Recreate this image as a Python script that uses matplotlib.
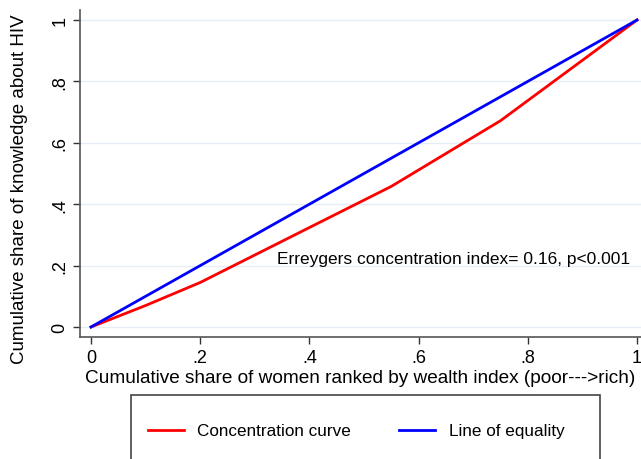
import numpy as np
import matplotlib.pyplot as plt
from matplotlib.patches import Rectangle

plt.rcParams["font.family"] = ["Liberation Sans", "DejaVu Sans"]

# Concentration curve
share_women = [0.0, 0.1, 0.2, 0.4, 0.55, 0.75, 1.0]
share_knowledge = [0.0, 0.07, 0.145, 0.324, 0.458, 0.672, 1.0]
equality = [0.0, 1.0]
ticks = [0, 0.2, 0.4, 0.6, 0.8, 1]
tick_labels = ["0", ".2", ".4", ".6", ".8", "1"]

fig = plt.figure(figsize=(6.41, 4.60), dpi=100)
ax = fig.add_axes([80 / 641, 122 / 460, 561 / 641, 327 / 460])

ax.plot(share_women, share_knowledge, color="#ff0000", lw=2, label="Concentration curve")
ax.plot(equality, equality, color="#0000ff", lw=2, label="Line of equality")

ax.set_xlim(-11 / 546, 550 / 546)
ax.set_ylim(-10 / 307, 317 / 307)
ax.set_xticks(ticks)
ax.set_xticklabels(tick_labels)
ax.set_yticks(ticks)
ax.set_yticklabels(tick_labels, rotation=90, va="center")
ax.tick_params(labelsize=13, length=5, width=1, color="#333333", direction="out")
ax.grid(axis="y", color="#e6edf4", lw=1)
ax.set_axisbelow(True)
for s in ["top", "right"]:
    ax.spines[s].set_visible(False)
for s in ["left", "bottom"]:
    ax.spines[s].set_color("#555555")
    ax.spines[s].set_linewidth(1.2)

ax.set_xlabel("Cumulative share of women ranked by wealth index (poor--->rich)",
              fontsize=13.7, labelpad=2)
ax.set_ylabel("Cumulative share of knowledge about HIV", fontsize=13.5)
ax.yaxis.set_label_coords(-0.093, 0.455)
ax.text(0.34, 0.21, "Erreygers concentration index= 0.16, p<0.001", fontsize=12.5)

# legend box, cut off at the bottom like in the source
fig.patches.append(Rectangle((131 / 641, -20 / 460), 469 / 641, 84 / 460,
                             transform=fig.transFigure, fill=False,
                             edgecolor="#444444", lw=1.2))
fig.legend(loc="center", bbox_to_anchor=(356 / 641, 28 / 460), ncol=2,
           frameon=False, fontsize=12.3, handlelength=2.1, columnspacing=2.8,
           handletextpad=0.8)

fig.savefig("out.png", dpi=100)
